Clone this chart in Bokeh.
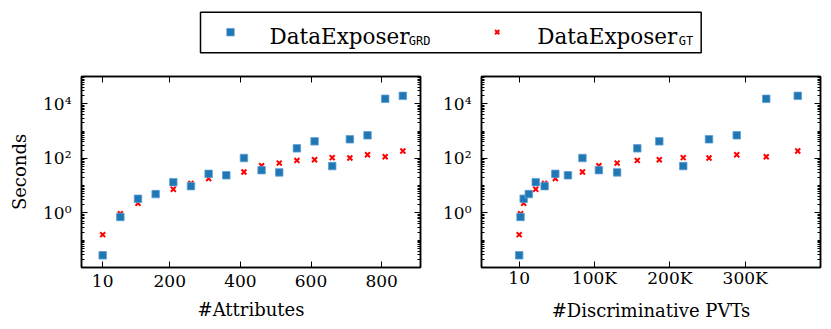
from bokeh.plotting import figure
from bokeh.layouts import column, row
from bokeh.models import (Range1d, FixedTicker, LogAxis, LinearAxis, CustomJSTickFormatter,
                          ColumnDataSource)
from bokeh.core.properties import value
from bokeh.embed import file_html
from bokeh.resources import INLINE

# ---------------- data ----------------
attributes = [10, 60, 110, 160, 210, 260, 310, 360, 410, 460, 510, 560, 610, 660, 710, 760, 810, 860]
pvts = [10, 1800, 6000, 12800, 22000, 33800, 48000, 64800, 84000, 105800, 130000, 156800,
        186000, 217800, 252000, 288800, 328000, 369800]
grd_seconds = [0.028, 0.71, 3.3, 4.9, 13.4, 9.6, 27, 24, 103, 37, 30.6, 233, 420, 52, 500, 700, 15200, 19500]
gt_seconds = [0.16, 0.94, 2.27, 5.0, 7.4, 12, 18.3, 24, 31.5, 54, 67, 84, 89, 106, 103, 136, 115, 186]

attr_ticks = [10, 200, 400, 600, 800]
attr_tick_labels = ["10", "200", "400", "600", "800"]
pvt_ticks = [10, 100000, 200000, 300000]
pvt_tick_labels = ["10", "100K", "200K", "300K"]
y_major = [1, 100, 10000]
series_names = ["DataExposer", "DataExposer"]
series_subs = ["GRD", "GT"]

BLUE = "#1f77b4"
RED = "#ff0000"
SERIF = "DejaVu Serif"

y_minor = []
for e in range(-2, 5):
    for k in range(1, 10):
        v = k * 10 ** e
        if v not in y_major:
            y_minor.append(v)
y_minor.append(1e5)

sup_fmt = CustomJSTickFormatter(code="""
const e = Math.round(Math.log10(tick));
const sup = {'-':'\u207b','0':'\u2070','1':'\u00b9','2':'\u00b2','3':'\u00b3','4':'\u2074',
             '5':'\u2075','6':'\u2076','7':'\u2077','8':'\u2078','9':'\u2079'};
return '10' + String(e).split('').map(c => sup[c]).join('');
""")
blank_fmt = CustomJSTickFormatter(code="return '';")


def label_fmt(tvals, tlabels):
    return CustomJSTickFormatter(args=dict(tvals=tvals, tlabels=tlabels), code="""
const i = tvals.indexOf(tick);
return i >= 0 ? tlabels[i] : '';
""")


def style_axis(ax, show_labels=True):
    ax.major_tick_in = 6
    ax.major_tick_out = 0
    ax.minor_tick_in = 3
    ax.minor_tick_out = 0
    ax.major_tick_line_color = "black"
    ax.minor_tick_line_color = "black"
    ax.axis_line_color = "black"
    ax.axis_line_width = 1.5
    ax.major_label_text_font = SERIF
    ax.major_label_text_font_size = "17px" if show_labels else "0px"
    ax.major_label_text_color = "black"
    ax.axis_label_text_font = SERIF
    ax.axis_label_text_font_size = "18px"
    ax.axis_label_text_font_style = "normal"
    ax.axis_label_text_color = "black"
    if not show_labels:
        ax.major_label_standoff = 0


def make_panel(xvals, xticks, xlabels, xlabel, xrange, width, border_left, border_right, ylabel,
               label_standoff):
    p = figure(width=width, height=259, y_axis_type="log", output_backend="svg",
               toolbar_location=None, x_range=Range1d(*xrange), y_range=Range1d(1e-2, 1e5),
               min_border_left=border_left, min_border_right=border_right,
               min_border_top=8, min_border_bottom=60)
    p.xgrid.visible = False
    p.ygrid.visible = False
    p.outline_line_color = "black"
    p.outline_line_width = 1.5
    p.background_fill_color = "white"
    p.border_fill_color = "white"

    p.xaxis.ticker = FixedTicker(ticks=xticks, minor_ticks=[])
    p.xaxis.formatter = label_fmt(xticks, xlabels)
    p.yaxis.ticker = FixedTicker(ticks=y_major, minor_ticks=y_minor)
    p.yaxis.formatter = sup_fmt
    p.xaxis.axis_label = xlabel
    if ylabel:
        p.yaxis.axis_label = ylabel
    for ax in p.xaxis + p.yaxis:
        style_axis(ax)
    p.xaxis.major_label_standoff = label_standoff
    p.xaxis.axis_label_standoff = 9
    p.yaxis.major_label_standoff = 10
    p.yaxis.axis_label_standoff = 10

    top = LinearAxis(ticker=FixedTicker(ticks=xticks, minor_ticks=[]), formatter=blank_fmt)
    style_axis(top, show_labels=False)
    p.add_layout(top, "above")
    right = LogAxis(ticker=FixedTicker(ticks=y_major, minor_ticks=y_minor), formatter=blank_fmt)
    style_axis(right, show_labels=False)
    p.add_layout(right, "right")

    src = ColumnDataSource(dict(x=xvals, grd=grd_seconds, gt=gt_seconds))
    p.scatter("x", "gt", source=src, marker="x", size=7, line_color=RED, line_width=2)
    p.scatter("x", "grd", source=src, marker="square", size=7.5, fill_color=BLUE,
              line_color="#5f9fd4", line_width=0.8)
    return p


p1 = make_panel(attributes, attr_ticks, attr_tick_labels, "#Attributes", (-50, 910), 430, 81, 10,
                "Seconds", 7)
p2 = make_panel(pvts, pvt_ticks, pvt_tick_labels, "#Discriminative PVTs", (-50000, 400000), 393, 51, 3,
                None, 0)

# ---------------- legend ----------------
leg = figure(width=823, height=68, x_range=Range1d(0, 823), y_range=Range1d(68, 0),
             output_backend="svg", toolbar_location=None, x_axis_type=None, y_axis_type=None,
             min_border=0)
leg.xgrid.visible = False
leg.ygrid.visible = False
leg.outline_line_color = None
leg.quad(left=[200], right=[700.7], top=[11.7], bottom=[52.3], fill_color=None,
         line_color="black", line_width=1.5)
leg.scatter([230], [31.7], marker="square", size=7.5, fill_color=BLUE, line_color="#5f9fd4", line_width=0.8)
leg.scatter([496.7], [31.7], marker="x", size=6, line_color=RED, line_width=2)
leg.text(x=[269, 536.7], y=[36.3, 36.3], text=series_names, text_font=value(SERIF),
         text_font_size="21.5px", text_baseline="alphabetic", text_align="left", text_color="black")
leg.text(x=[408.3, 678.3], y=[40.7, 40.7], text=series_subs, text_font=value("DejaVu Sans Mono"),
         text_font_size="12px", text_baseline="alphabetic", text_align="left", text_color="black")

layout = column(leg, row(p1, p2, spacing=0), spacing=0)
open("out.html", "w").write(file_html(layout, INLINE))
